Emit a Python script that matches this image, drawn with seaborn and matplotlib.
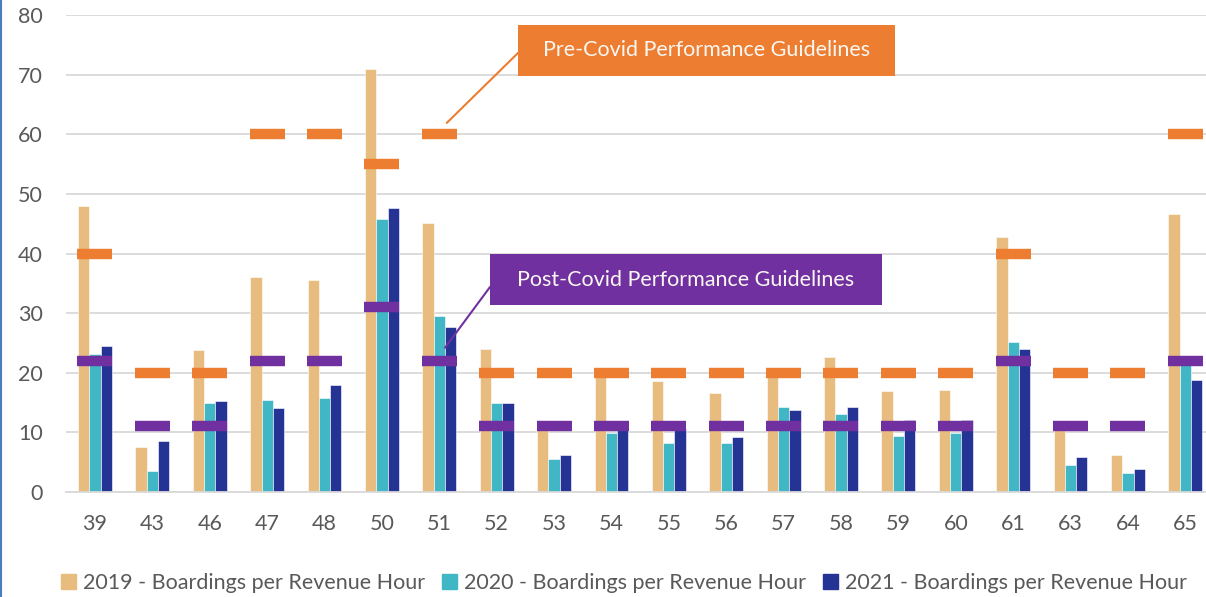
import numpy as np
import pandas as pd
import matplotlib.pyplot as plt
import seaborn as sns
from matplotlib.patches import Patch, Rectangle

routes = ["39", "43", "46", "47", "48", "50", "51", "52", "53", "54",
          "55", "56", "57", "58", "59", "60", "61", "63", "64", "65"]
b2019 = [48.0, 7.5, 23.8, 36.0, 35.5, 70.9, 45.1, 23.9, 10.4, 20.7,
         18.6, 16.6, 20.7, 22.6, 16.9, 17.1, 42.7, 10.4, 6.2, 46.6]
b2020 = [23.1, 3.5, 14.9, 15.4, 15.8, 45.8, 29.5, 14.9, 5.5, 9.9,
         8.3, 8.3, 14.2, 13.0, 9.4, 9.9, 25.1, 4.5, 3.2, 21.8]
b2021 = [24.5, 8.6, 15.3, 14.1, 18.0, 47.7, 27.7, 15.0, 6.2, 10.8,
         10.8, 9.3, 13.7, 14.3, 12.0, 12.0, 24.0, 5.8, 3.9, 18.8]
pre_covid = [40, 20, 20, 60, 60, 55, 60, 20, 20, 20,
             20, 20, 20, 20, 20, 20, 40, 20, 20, 60]
post_covid = [22, 11, 11, 22, 22, 31, 22, 11, 11, 11,
              11, 11, 11, 11, 11, 11, 22, 11, 11, 22]
series = ["2019 - Boardings per Revenue Hour",
          "2020 - Boardings per Revenue Hour",
          "2021 - Boardings per Revenue Hour"]
colors = ["#E8BB7E", "#41B6C4", "#253494"]
PRE_C = "#ED7D31"
POST_C = "#7030A0"
TXT = "#595959"

df = pd.DataFrame({"route": routes * 3,
                   "value": b2019 + b2020 + b2021,
                   "series": np.repeat(series, len(routes))})

sns.set_style("white")
plt.rcParams['font.family'] = ['Lato', 'DejaVu Sans']

W, H = 1206, 597
fig = plt.figure(figsize=(W / 100, H / 100), dpi=100)
ax = fig.add_axes([66.3 / W, 105 / H, (1214 - 66.3) / W, 477 / H])

sns.barplot(data=df, x="route", y="value", hue="series", palette=colors,
            width=0.59, saturation=1, ax=ax, legend=False,
            edgecolor="white", linewidth=0.4, zorder=2)

xs = np.arange(len(routes))
ax.hlines(pre_covid, xs - 0.305, xs + 0.305, color=PRE_C, lw=7.5, zorder=3)
ax.hlines(post_covid, xs - 0.305, xs + 0.305, color=POST_C, lw=7.5, zorder=4)

ax.set_ylim(0, 80)
ax.set_xlim(-0.5, 19.5)
ax.set_yticks(range(0, 81, 10))
ax.yaxis.grid(True, color="#D9D9D9", lw=1.3, zorder=0)
ax.set_axisbelow(True)
for s in ["top", "right", "left"]:
    ax.spines[s].set_visible(False)
ax.spines["bottom"].set_color("#D9D9D9")
ax.spines["bottom"].set_linewidth(1.3)
ax.tick_params(axis="both", length=0, labelsize=15.5, labelcolor=TXT)
ax.tick_params(axis="y", pad=17)
ax.tick_params(axis="x", pad=16)
ax.set_xlabel("")
ax.set_ylabel("")


def callout(text, color, box, target):
    # box = (left, top, right, bottom) in pixels from the top-left corner
    l, t, r, b = box
    fig.add_artist(Rectangle((l / W, 1 - b / H), (r - l) / W, (b - t) / H,
                             transform=fig.transFigure, fc=color, ec="none",
                             zorder=5))
    fig.text((l + r) / 2 / W, 1 - (t + b) / 2 / H, text, ha="center",
             va="center", color="#FBF7F2", fontsize=15.5, zorder=6)
    ax.annotate("", xy=target[1], xytext=(l / W, 1 - target[0] / H),
                textcoords="figure fraction",
                arrowprops=dict(arrowstyle="-", color=color, lw=1.5,
                                shrinkA=0, shrinkB=0))


callout("Pre-Covid Performance Guidelines", PRE_C, (518, 25, 895, 76),
        (53, (6.13, 61.9)))
callout("Post-Covid Performance Guidelines", POST_C, (490, 254, 882, 305),
        (287, (6.1, 24.2)))

handles = [Patch(color=c, label=s) for c, s in zip(colors, series)]
fig.legend(handles=handles, loc="center", bbox_to_anchor=(624 / W, 1 - 583 / H),
           ncol=3, frameon=False, fontsize=15.5, labelcolor=TXT,
           handlelength=0.7, handleheight=0.7, handletextpad=0.3,
           columnspacing=0.8)

fig.add_artist(plt.Line2D([1 / W, 1 / W], [0, 1], color="#4A7EBB", lw=1.5))

fig.savefig("out.png", dpi=100)
